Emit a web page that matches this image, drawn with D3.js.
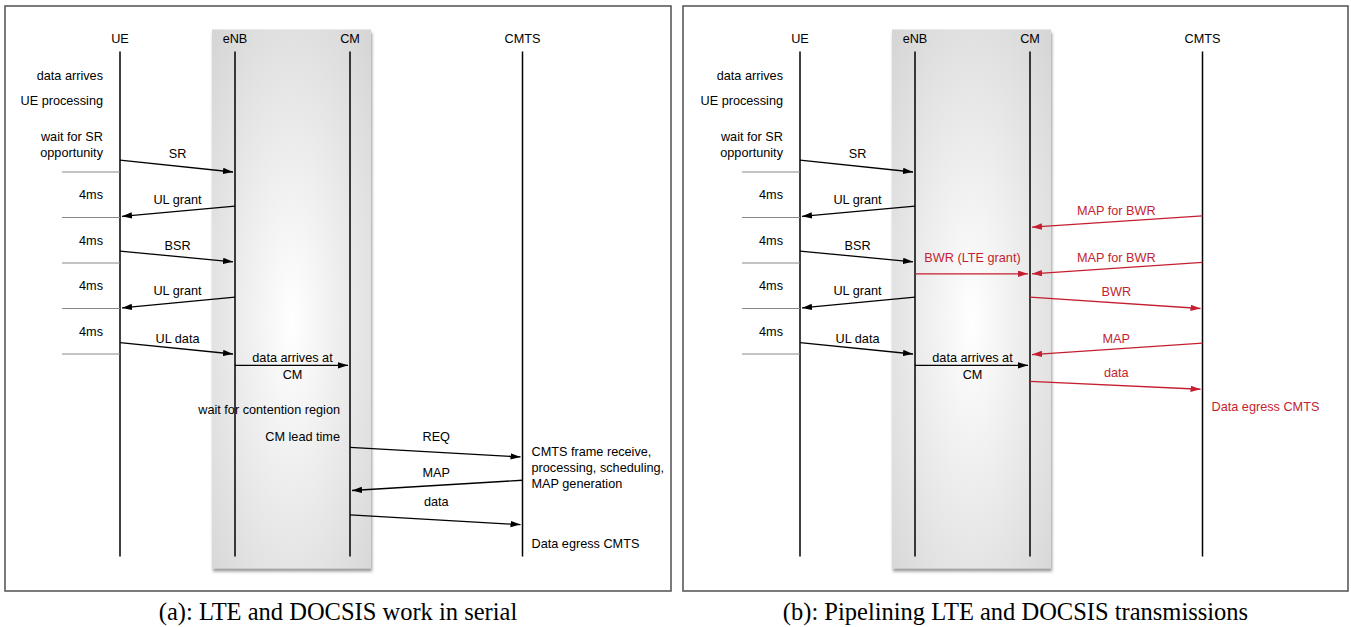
<!DOCTYPE html>
<html>
<head>
<meta charset="utf-8">
<script src="https://cdn.jsdelivr.net/npm/d3@7"></script>
<style>
  body { margin: 0; background: #fff; }
  text { font-family: "Liberation Sans", Arial, sans-serif; }
  text.caption { font-family: "Liberation Serif", "Times New Roman", serif; }
</style>
</head>
<body>
<div id="chart"></div>
<script>
// actors and their lane index (CMTS sits a bit further out)
const actors = ["UE", "eNB", "CM", "CMTS"];
const actorLane = [0, 1, 2, 3.5];

// time axis in ms, 4ms slots on the UE side
const slotBounds = [0, 4, 8, 12, 16];
const lifeSpan = [-10.6, 33.8];

// LTE messages (same in both panels)
const lteMsgs = [
  {label: ["SR"], from: "UE", to: "eNB", t0: -1.05, t1: 0, lt: -1.6},
  {label: ["UL grant"], from: "eNB", to: "UE", t0: 3.0, t1: 3.9, lt: 2.45},
  {label: ["BSR"], from: "UE", to: "eNB", t0: 6.95, t1: 7.9, lt: 6.5},
  {label: ["UL grant"], from: "eNB", to: "UE", t0: 11.0, t1: 11.95, lt: 10.45},
  {label: ["UL data"], from: "UE", to: "eNB", t0: 15.0, t1: 16.0, lt: 14.6},
  {label: ["data arrives at", "CM"], from: "eNB", to: "CM", t0: 17.0, t1: 17.0, lt: 16.35}
];

// DOCSIS messages, serial case
const serialMsgs = [
  {label: ["REQ"], from: "CM", to: "CMTS", t0: 24.2, t1: 25.05, lt: 23.3},
  {label: ["MAP"], from: "CMTS", to: "CM", t0: 27.1, t1: 28.0, lt: 26.4},
  {label: ["data"], from: "CM", to: "CMTS", t0: 30.15, t1: 31.0, lt: 29.0}
];

// DOCSIS messages, pipelined case
const pipeMsgs = [
  {label: ["MAP for BWR"], from: "CMTS", to: "CM", t0: 3.85, t1: 4.85, lt: 3.4},
  {label: ["MAP for BWR"], from: "CMTS", to: "CM", t0: 7.95, t1: 8.95, lt: 7.5},
  {label: ["BWR (LTE grant)"], from: "eNB", to: "CM", t0: 8.95, t1: 8.95, lt: 7.5},
  {label: ["BWR"], from: "CM", to: "CMTS", t0: 11.0, t1: 12.0, lt: 10.5},
  {label: ["MAP"], from: "CMTS", to: "CM", t0: 15.05, t1: 16.05, lt: 14.6},
  {label: ["data"], from: "CM", to: "CMTS", t0: 18.4, t1: 19.1, lt: 17.65}
];

// side notes: lane, side of lifeline, time of first line
const lteNotes = [
  {lines: ["data arrives"], lane: 0, side: "left", t: -8.5},
  {lines: ["UE processing"], lane: 0, side: "left", t: -6.3},
  {lines: ["wait for SR", "opportunity"], lane: 0, side: "left", t: -3.1}
];
const serialNotes = [
  {lines: ["wait for contention region"], lane: 2, side: "left", t: 20.9},
  {lines: ["CM lead time"], lane: 2, side: "left", t: 23.3},
  {lines: ["CMTS frame receive,", "processing, scheduling,", "MAP generation"], lane: 3.5, side: "right", t: 24.6},
  {lines: ["Data egress CMTS"], lane: 3.5, side: "right", t: 32.7}
];
const pipeNotes = [
  {lines: ["Data egress CMTS"], lane: 3.5, side: "right", t: 20.6}
];

const captions = ["(a): LTE and DOCSIS work in serial", "(b): Pipelining LTE and DOCSIS transmissions"];

const width = 1351, height = 627;
const black = "#000", red = "#c41e30";

const svg = d3.select("#chart").append("svg")
  .attr("width", width)
  .attr("height", height);

const defs = svg.append("defs");

// arrow heads
[["arrowBlack", black], ["arrowRed", red]].forEach(([id, c]) => {
  defs.append("marker")
    .attr("id", id)
    .attr("markerUnits", "userSpaceOnUse")
    .attr("markerWidth", 11).attr("markerHeight", 7)
    .attr("refX", 10).attr("refY", 3.2)
    .attr("orient", "auto")
    .append("path")
    .attr("d", "M0,0 L10,3.2 L0,6.4 Z")
    .attr("fill", c);
});

// gradient for the eNB/CM box
const grad = defs.append("radialGradient")
  .attr("id", "boxGrad")
  .attr("cx", "50%").attr("cy", "54%").attr("r", "75%");
grad.append("stop").attr("offset", "0%").attr("stop-color", "#ffffff");
grad.append("stop").attr("offset", "100%").attr("stop-color", "#d4d4d4");

const shadow = defs.append("filter").attr("id", "boxShadow")
  .attr("x", "-10%").attr("y", "-5%").attr("width", "120%").attr("height", "110%");
shadow.append("feDropShadow")
  .attr("dx", 1).attr("dy", 3).attr("stdDeviation", 1.4)
  .attr("flood-color", "#444").attr("flood-opacity", 0.55);

// time scale shared by both panels
const yScale = d3.scaleLinear().domain([0, 16]).range([172, 354]);

const panels = [
  {x0: 5, x1: 671, ue: 120, msgs: [lteMsgs, serialMsgs], notes: [lteNotes, serialNotes], red: false},
  {x0: 683, x1: 1348, ue: 800, msgs: [lteMsgs, pipeMsgs], notes: [lteNotes, pipeNotes], red: true}
];

panels.forEach((p, pi) => {
  const g = svg.append("g");

  const xScale = d3.scaleLinear().domain([0, 1]).range([p.ue, p.ue + 115]);
  const laneOf = name => actorLane[actors.indexOf(name)];

  // panel frame
  g.append("rect")
    .attr("x", p.x0).attr("y", 6)
    .attr("width", p.x1 - p.x0).attr("height", 585)
    .attr("fill", "#fff")
    .attr("stroke", "#5a5a5a")
    .attr("stroke-width", 1.6);

  const yTop = yScale(lifeSpan[0]), yBot = yScale(lifeSpan[1]);

  // shaded box around eNB and CM
  g.append("rect")
    .attr("x", xScale(1) - 23).attr("y", yTop - 22)
    .attr("width", xScale(2) - xScale(1) + 44)
    .attr("height", yBot - yTop + 34)
    .attr("fill", "url(#boxGrad)")
    .attr("filter", "url(#boxShadow)");

  // actor names
  g.selectAll(".actor")
    .data(actors)
    .join("text")
    .attr("x", (d, i) => xScale(actorLane[i]))
    .attr("y", yTop - 13)
    .attr("dy", "0.35em")
    .attr("text-anchor", "middle")
    .attr("font-size", 12.7)
    .text(d => d);

  // lifelines
  g.selectAll(".life")
    .data(actorLane)
    .join("line")
    .attr("x1", d => xScale(d)).attr("x2", d => xScale(d))
    .attr("y1", yTop).attr("y2", yBot)
    .attr("stroke", "#000")
    .attr("stroke-width", 1.5);

  // 4ms slot separators
  g.selectAll(".slot")
    .data(slotBounds)
    .join("line")
    .attr("x1", xScale(0) - 58).attr("x2", xScale(0))
    .attr("y1", d => yScale(d)).attr("y2", d => yScale(d))
    .attr("stroke", "#888")
    .attr("stroke-width", 1);

  g.selectAll(".slotLabel")
    .data(d3.pairs(slotBounds))
    .join("text")
    .attr("x", xScale(0) - 17)
    .attr("y", d => yScale((d[0] + d[1]) / 2))
    .attr("dy", "0.35em")
    .attr("text-anchor", "end")
    .attr("font-size", 12.7)
    .text(d => (d[1] - d[0]) + "ms");

  // notes
  p.notes.forEach((list, li) => {
    const col = (p.red && li === 1) ? red : black;
    list.forEach(n => {
      const left = n.side === "left";
      const gap = left ? (n.lane === 0 ? 17 : 10) : 9;
      const t = g.append("text")
        .attr("x", xScale(n.lane) + (left ? -gap : gap))
        .attr("y", yScale(n.t))
        .attr("text-anchor", left ? "end" : "start")
        .attr("font-size", 12.7)
        .attr("fill", col);
      n.lines.forEach((line, k) => {
        t.append("tspan")
          .attr("x", xScale(n.lane) + (left ? -gap : gap))
          .attr("dy", k === 0 ? "0.35em" : 16)
          .text(line);
      });
    });
  });

  // messages
  p.msgs.forEach((list, li) => {
    const col = (p.red && li === 1) ? red : black;
    const marker = col === red ? "url(#arrowRed)" : "url(#arrowBlack)";
    list.forEach(m => {
      const xa = xScale(laneOf(m.from));
      const xb = xScale(laneOf(m.to));
      const dir = xb > xa ? 1 : -1;
      g.append("line")
        .attr("x1", xa).attr("y1", yScale(m.t0))
        .attr("x2", xb - dir * 2).attr("y2", yScale(m.t1))
        .attr("stroke", col)
        .attr("stroke-width", 1.3)
        .attr("marker-end", marker);

      const t = g.append("text")
        .attr("x", (xa + xb) / 2)
        .attr("y", yScale(m.lt))
        .attr("text-anchor", "middle")
        .attr("font-size", 12.7)
        .attr("fill", col);
      m.label.forEach((line, k) => {
        t.append("tspan")
          .attr("x", (xa + xb) / 2)
          .attr("dy", k === 0 ? "0.35em" : 17)
          .text(line);
      });
    });
  });

  // caption
  svg.append("text")
    .attr("class", "caption")
    .attr("x", (p.x0 + p.x1) / 2)
    .attr("y", 611)
    .attr("dy", "0.35em")
    .attr("text-anchor", "middle")
    .attr("font-size", 24.5)
    .text(captions[pi]);
});
</script>
</body>
</html>
